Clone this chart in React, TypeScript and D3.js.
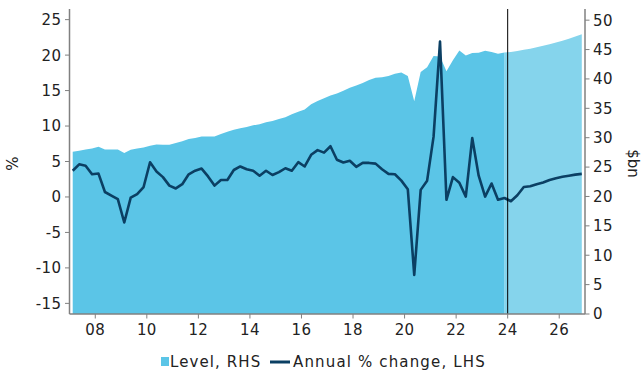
import React from "react";
import * as d3 from "d3";

// Quarterly observations, 2007 Q1 – 2026 Q4 (2024 onward is the projection)
const QUARTERS: string[] = d3.range(2007, 2027).flatMap((y) => [1, 2, 3, 4].map((q) => `${y}Q${q}`));
const PROJECTION_START = "2024Q1";

// Annual % change (left axis)
const ANNUAL_CHANGE: number[] = [
  3.7, 4.6, 4.4, 3.2, 3.3, 0.7, 0.2, -0.3, -3.6, -0.1, 0.4, 1.4, 4.9, 3.6, 2.8, 1.6,
  1.2, 1.8, 3.2, 3.7, 4.0, 2.9, 1.6, 2.4, 2.4, 3.8, 4.3, 3.9, 3.7, 3.0, 3.7, 3.1,
  3.5, 4.05, 3.7, 4.9, 4.3, 5.95, 6.6, 6.25, 7.15, 5.25, 4.85, 5.1, 4.25, 4.8, 4.8, 4.7,
  3.9, 3.25, 3.2, 2.3, 1.1, -11.0, 1.0, 2.3, 8.5, 21.9, -0.4, 2.8, 2.0, 0.05, 8.3, 3.0,
  0.05, 1.9, -0.4, -0.15, -0.6, 0.25, 1.4, 1.5, 1.8, 2.05, 2.4, 2.65, 2.85, 3.0, 3.15, 3.25,
];

// Level in $bn (right axis)
const LEVEL: number[] = [
  27.6, 27.8, 28.0, 28.15, 28.45, 28.0, 28.0, 28.0, 27.4, 27.95, 28.15, 28.35, 28.65, 28.85, 28.8, 28.8,
  29.1, 29.4, 29.8, 29.95, 30.2, 30.2, 30.2, 30.65, 31.0, 31.35, 31.6, 31.8, 32.1, 32.3, 32.65, 32.85,
  33.2, 33.5, 34.0, 34.4, 34.8, 35.7, 36.25, 36.7, 37.2, 37.5, 38.0, 38.5, 38.9, 39.3, 39.8, 40.2,
  40.3, 40.5, 40.9, 41.1, 40.5, 36.2, 41.2, 42.0, 43.9, 43.8, 41.3, 43.2, 44.85, 44.0, 44.4, 44.45,
  44.8, 44.6, 44.3, 44.5, 44.6, 44.75, 44.95, 45.15, 45.4, 45.65, 45.9, 46.2, 46.5, 46.85, 47.2, 47.6,
];

const LEFT_TICKS = [-15, -10, -5, 0, 5, 10, 15, 20, 25];
const RIGHT_TICKS = [0, 5, 10, 15, 20, 25, 30, 35, 40, 45, 50];
const YEAR_TICKS = [2008, 2010, 2012, 2014, 2016, 2018, 2020, 2022, 2024, 2026];

const LEGEND_LEVEL = "Level, RHS";
const LEGEND_CHANGE = "Annual % change, LHS";

const W = 642;
const H = 376;
const FONT = "'DejaVu Sans', Verdana, sans-serif";
const TEXT = "#222";
const AXIS = "#808080";
const AREA_HIST = "#5bc5e7";
const AREA_PROJ = "#85d4ec";
const LINE = "#0b3f63";

const quarterTime = (q: string) => {
  const y = +q.slice(0, 4);
  const n = +q.slice(5);
  return y + (n - 0.5) / 4;
};

export default function App() {
  const left = 69.5;
  const right = 585;
  const top = 9;
  const bottom = 314;

  const x = d3.scaleLinear().domain([2007, 2027]).range([left, right]);
  const yL = d3.scaleLinear().domain([-16.5, 26.5]).range([bottom, top]);
  const yR = d3.scaleLinear().domain([0, 51.9]).range([bottom, top]);

  const rows = QUARTERS.map((q, i) => ({ t: quarterTime(q), change: ANNUAL_CHANGE[i], level: LEVEL[i] }));
  const split = QUARTERS.indexOf(PROJECTION_START);
  const hist = rows.slice(0, split);
  const proj = rows.slice(split - 1);

  const area = d3
    .area<{ t: number; level: number }>()
    .x((d) => x(d.t))
    .y0(yR(0))
    .y1((d) => yR(d.level));

  const line = d3
    .line<{ t: number; change: number }>()
    .x((d) => x(d.t))
    .y((d) => yL(d.change));

  const xDivider = x(+PROJECTION_START.slice(0, 4));

  return (
    <svg
      width={W}
      height={H}
      style={{ position: "absolute", left: 0, top: 0, background: "#fff" }}
      fontFamily={FONT}
    >
      <path d={area(proj) || ""} fill={AREA_PROJ} />
      <path d={area(hist) || ""} fill={AREA_HIST} />
      <path d={line(rows) || ""} fill="none" stroke={LINE} strokeWidth={2.6} strokeLinejoin="round" />
      <line x1={xDivider} x2={xDivider} y1={top} y2={bottom} stroke="#000" strokeWidth={1} />

      {/* left axis */}
      <line x1={left} x2={left} y1={top} y2={bottom} stroke={AXIS} strokeWidth={1.5} />
      {LEFT_TICKS.map((v) => (
        <g key={`l${v}`}>
          <line x1={left - 4.5} x2={left} y1={yL(v)} y2={yL(v)} stroke={AXIS} strokeWidth={1} />
          <text x={left - 8} y={yL(v)} dy="0.36em" textAnchor="end" fontSize={15} letterSpacing={0.4} fill={TEXT}>
            {v}
          </text>
        </g>
      ))}
      <text transform={`translate(18,${(top + bottom) / 2 + 2}) rotate(-90)`} textAnchor="middle" fontSize={15} fill={TEXT}>
        %
      </text>

      {/* right axis */}
      <line x1={right} x2={right} y1={top} y2={bottom} stroke={AXIS} strokeWidth={1.5} />
      {RIGHT_TICKS.map((v) => (
        <g key={`r${v}`}>
          <line x1={right} x2={right + 4.5} y1={yR(v)} y2={yR(v)} stroke={AXIS} strokeWidth={1} />
          <text x={right + 8} y={yR(v)} dy="0.36em" textAnchor="start" fontSize={15} letterSpacing={0.4} fill={TEXT}>
            {v}
          </text>
        </g>
      ))}
      <text transform={`translate(628,${(top + bottom) / 2 + 2}) rotate(90)`} textAnchor="middle" fontSize={15} fill={TEXT}>
        $bn
      </text>

      {/* bottom axis */}
      <line x1={left} x2={right} y1={bottom} y2={bottom} stroke={AXIS} strokeWidth={1.5} />
      {YEAR_TICKS.map((v) => (
        <g key={`x${v}`}>
          <line x1={x(v)} x2={x(v)} y1={bottom} y2={bottom + 4.5} stroke={AXIS} strokeWidth={1} />
          <text x={x(v)} y={bottom + 21} textAnchor="middle" fontSize={15} letterSpacing={0.4} fill={TEXT}>
            {String(v % 100).padStart(2, "0")}
          </text>
        </g>
      ))}

      {/* legend */}
      <g transform="translate(0,362)">
        <rect x={161} y={-5} width={8} height={9} fill={AREA_HIST} />
        <text x={170} y={0} dy="0.36em" fontSize={15} letterSpacing={1.1} fill={TEXT}>
          {LEGEND_LEVEL}
        </text>
        <line x1={270} x2={290} y1={0} y2={0} stroke={LINE} strokeWidth={3} />
        <text x={293} y={0} dy="0.36em" fontSize={15} letterSpacing={1.15} fill={TEXT}>
          {LEGEND_CHANGE}
        </text>
      </g>
    </svg>
  );
}
